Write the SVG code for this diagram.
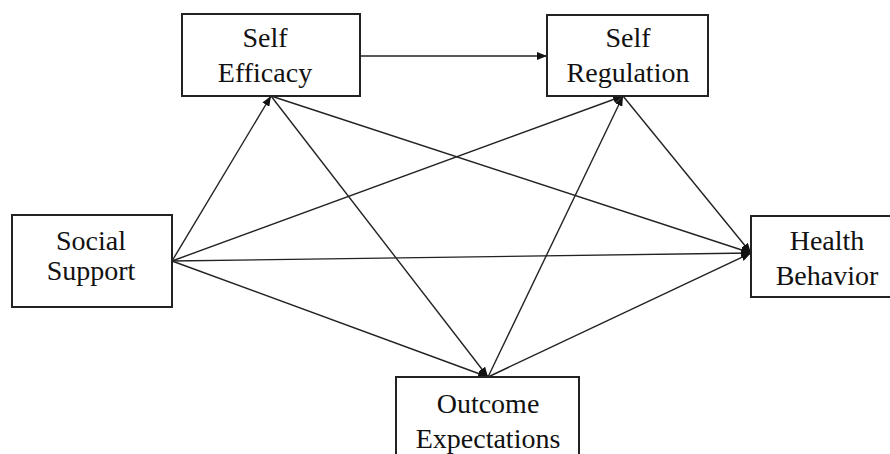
<svg xmlns="http://www.w3.org/2000/svg" width="890" height="454" viewBox="0 0 890 454">
<style>
.box{fill:#fff;stroke:#222;stroke-width:2}
.lbl{font-size:28px;fill:#111;text-anchor:middle}
.edge{stroke:#222;stroke-width:1.4;fill:none}
</style>
<defs>
<marker id="ah" viewBox="0 0 10 8" refX="10" refY="4" markerWidth="10" markerHeight="8" markerUnits="userSpaceOnUse" orient="auto">
<path d="M0,0 L10,4 L0,8 Z" fill="#111"/>
</marker>
</defs>
<rect width="890" height="454" fill="#fff"/>
<g id="connectors">
<line class="edge" x1="360" y1="56" x2="547" y2="56" marker-end="url(#ah)"/>
<line class="edge" x1="172" y1="261" x2="271" y2="96" marker-end="url(#ah)"/>
<line class="edge" x1="172" y1="261" x2="623" y2="96" marker-end="url(#ah)"/>
<line class="edge" x1="172" y1="261" x2="751" y2="253" marker-end="url(#ah)"/>
<line class="edge" x1="172" y1="261" x2="488" y2="377" marker-end="url(#ah)"/>
<line class="edge" x1="271" y1="96" x2="751" y2="253" marker-end="url(#ah)"/>
<line class="edge" x1="271" y1="96" x2="488" y2="377" marker-end="url(#ah)"/>
<line class="edge" x1="623" y1="96" x2="751" y2="253" marker-end="url(#ah)"/>
<line class="edge" x1="488" y1="377" x2="623" y2="96" marker-end="url(#ah)"/>
<line class="edge" x1="488" y1="377" x2="751" y2="253" marker-end="url(#ah)"/>
</g>
<g font-family="'Liberation Serif', 'DejaVu Serif', serif">
<g id="self-efficacy">
<rect class="box" x="182" y="14" width="178" height="82"/>
<text class="lbl" x="265" y="47">Self</text>
<text class="lbl" x="265" y="82">Efficacy</text>
</g>
<g id="self-regulation">
<rect class="box" x="547" y="15" width="161" height="81"/>
<text class="lbl" x="628" y="47">Self</text>
<text class="lbl" x="628" y="82">Regulation</text>
</g>
<g id="social-support">
<rect class="box" x="12" y="215" width="160" height="92"/>
<text class="lbl" x="91" y="250">Social</text>
<text class="lbl" x="91" y="280">Support</text>
</g>
<g id="health-behavior">
<rect class="box" x="751" y="216" width="150" height="81"/>
<text class="lbl" x="827" y="250">Health</text>
<text class="lbl" x="827" y="285">Behavior</text>
</g>
<g id="outcome-expectations">
<rect class="box" x="396" y="377" width="183" height="90"/>
<text class="lbl" x="488" y="413">Outcome</text>
<text class="lbl" x="488" y="448">Expectations</text>
</g>
</g>
</svg>
